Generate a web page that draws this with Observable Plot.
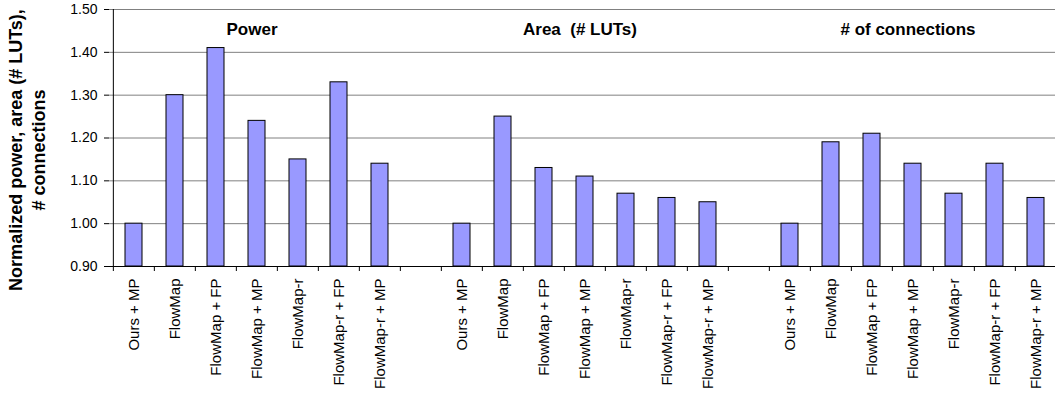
<!DOCTYPE html>
<html>
<head>
<meta charset="utf-8">
<script src="https://cdn.jsdelivr.net/npm/d3@7"></script>
<script src="https://cdn.jsdelivr.net/npm/@observablehq/plot@0.6"></script>
<style>
  html, body { margin: 0; padding: 0; background: #fff; }
  svg text { white-space: pre; }
</style>
</head>
<body>
<div id="chart"></div>
<script>
const categories = ["Ours + MP", "FlowMap", "FlowMap + FP", "FlowMap + MP", "FlowMap-r", "FlowMap-r + FP", "FlowMap-r + MP"];
const groups = ["Power", "Area  (# LUTs)", "# of connections"];
const power = [1.00, 1.30, 1.41, 1.24, 1.15, 1.33, 1.14];
const area = [1.00, 1.25, 1.13, 1.11, 1.07, 1.06, 1.05];
const connections = [1.00, 1.19, 1.21, 1.14, 1.07, 1.14, 1.06];
const yTicks = [0.90, 1.00, 1.10, 1.20, 1.30, 1.40, 1.50];
const yLabelLines = ["Normalized power, area (# LUTs),", "# connections"];

const series = [power, area, connections];
const key = (g, c) => `${g}|${c}`;
const domain = [];
const rows = [];
groups.forEach((grp, g) => {
  if (g > 0) domain.push(`gap${g}`);
  categories.forEach((cat, c) => {
    domain.push(key(g, c));
    rows.push({k: key(g, c), cat, value: series[g][c]});
  });
});
const fmt = k => k.startsWith("gap") ? "" : categories[+k.split("|")[1]];

const width = 1055, height = 398;
const marginLeft = 109, marginRight = -4, marginTop = 9, marginBottom = 132;
const step = (width - marginLeft - marginRight) / domain.length;
const yMin = yTicks[0], yMax = yTicks[yTicks.length - 1];

const chart = Plot.plot({
  width, height, marginLeft, marginRight, marginTop, marginBottom,
  style: {fontFamily: "Arial, 'Liberation Sans', sans-serif", color: "#000", background: "#fff"},
  x: {type: "band", domain, padding: 0, label: null},
  y: {domain: [yMin, yMax], label: null},
  marks: [
    Plot.ruleY(yTicks.slice(1), {stroke: "#808080", strokeWidth: 1}),
    Plot.barY(rows, {x: "k", y1: yMin, y2: "value", fill: "#9999FF", stroke: "#000", strokeWidth: 1, insetLeft: 12, insetRight: 12}),
    Plot.ruleY([yMin], {stroke: "#000", strokeWidth: 1}),
    Plot.ruleX([domain[0]], {dx: -step / 2, y1: yMin, y2: yMax, stroke: "#000", strokeWidth: 1}),
    Plot.axisY({ticks: yTicks, tickFormat: d3.format(".2f"), tickSize: 5, tickPadding: 7, fontSize: 14, label: null}),
    Plot.axisX({ticks: domain, tickSize: 5, tickFormat: () => "", dx: -step / 2, label: null}),
    Plot.axisX({ticks: domain, tickSize: 0, tickPadding: 12, tickRotate: -90, tickFormat: fmt, fontSize: 15, label: null}),
    Plot.text(groups, {x: (d, i) => key(i, 3), frameAnchor: "top", lineAnchor: "middle", dy: 20, dx: -5, fontWeight: "bold", fontSize: 17, fill: "#000"}),
    Plot.text([yLabelLines[0]], {frameAnchor: "left", textAnchor: "middle", lineAnchor: "middle", dx: 16 - marginLeft, dy: 12, rotate: -90, fontWeight: "bold", fontSize: 18, fill: "#000"}),
    Plot.text([yLabelLines[1]], {frameAnchor: "left", textAnchor: "middle", lineAnchor: "middle", dx: 39 - marginLeft, dy: 12, rotate: -90, fontWeight: "bold", fontSize: 18, fill: "#000"})
  ]
});
document.getElementById("chart").appendChild(chart);
</script>
</body>
</html>
